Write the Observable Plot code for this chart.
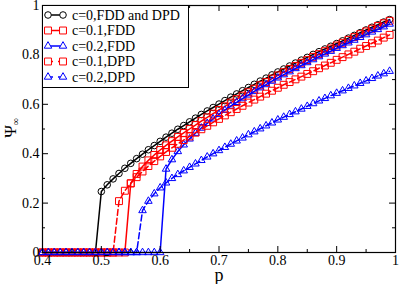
<!DOCTYPE html>
<html>
<head>
<meta charset="utf-8">
<script src="https://cdn.jsdelivr.net/npm/d3@7"></script>
<script src="https://cdn.jsdelivr.net/npm/@observablehq/plot@0.6"></script>
<style>
  html, body { margin: 0; padding: 0; background: #fff; }
  svg text { font-family: 'Liberation Serif', 'DejaVu Serif', serif !important; }
</style>
</head>
<body>
<div id="chart"></div>
<script>
// ---- data ----
const pGrid = [0.40,0.41,0.42,0.43,0.44,0.45,0.46,0.47,0.48,0.49,
               0.50,0.51,0.52,0.53,0.54,0.55,0.56,0.57,0.58,0.59,
               0.60,0.61,0.62,0.63,0.64,0.65,0.66,0.67,0.68,0.69,
               0.70,0.71,0.72,0.73,0.74,0.75,0.76,0.77,0.78,0.79,
               0.80,0.81,0.82,0.83,0.84,0.85,0.86,0.87,0.88,0.89,
               0.90,0.91,0.92,0.93,0.94,0.95,0.96,0.97,0.98,0.99];

const psiC0 = [0,0,0,0,0,0,0,0,0,0,
  .247,.274,.298,.320,.341,.361,.380,.398,.416,.433,
  .450,.467,.483,.499,.514,.529,.544,.559,.573,.587,
  .601,.615,.629,.642,.655,.668,.681,.694,.706,.719,
  .731,.743,.755,.767,.779,.790,.802,.813,.824,.835,
  .846,.857,.868,.879,.890,.901,.912,.922,.933,.943];

const psiC01FDD = [0,0,0,0,0,0,0,0,0,0,
  0,0,0,0,0,.280,.318,.348,.373,.395,
  .415,.434,.451,.468,.484,.500,.516,.532,.547,.562,
  .577,.592,.607,.621,.635,.649,.663,.677,.690,.704,
  .717,.730,.743,.755,.768,.779,.792,.803,.815,.826,
  .838,.849,.861,.872,.884,.895,.906,.917,.928,.938];

const psiC02FDD = [0,0,0,0,0,0,0,0,0,0,
  0,0,0,0,0,0,0,0,0,0,
  0,.338,.376,.409,.436,.460,.483,.504,.523,.541,
  .559,.576,.593,.608,.623,.638,.652,.667,.680,.694,
  .707,.720,.732,.745,.757,.769,.781,.793,.804,.815,
  .827,.838,.849,.860,.871,.882,.893,.903,.914,.925];

const psiC01DPD = [0,0,0,0,0,0,0,0,0,0,
  0,0,0,.208,.250,.280,.305,.328,.350,.370,
  .389,.407,.424,.440,.455,.470,.485,.499,.513,.527,
  .541,.555,.568,.581,.594,.607,.619,.631,.643,.655,
  .667,.679,.690,.701,.712,.723,.734,.746,.757,.768,
  .780,.791,.802,.813,.825,.836,.847,.858,.870,.881];

const psiC02DPD = [0,0,0,0,0,0,0,0,0,0,
  0,0,0,0,0,0,0,.170,.208,.238,
  .262,.282,.300,.316,.331,.345,.359,.373,.387,.400,
  .413,.426,.439,.452,.464,.477,.489,.501,.513,.525,
  .537,.548,.559,.570,.581,.592,.603,.614,.624,.635,
  .645,.655,.665,.675,.685,.695,.705,.715,.724,.734];

const seriesLabels = ["c=0,FDD and DPD","c=0.1,FDD","c=0.2,FDD","c=0.1,DPD","c=0.2,DPD"];
const xMajor = [0.4,0.5,0.6,0.7,0.8,0.9,1];
const xMinor = [0.45,0.55,0.65,0.75,0.85,0.95];
const yMajor = [0,0.2,0.4,0.6,0.8,1];
const yMinor = [0.1,0.3,0.5,0.7,0.9];

// ---- styling ----
const styles = [
  {values: psiC0,     color: "#000000", symbol: "circle",   r: 3.3, dash: null},
  {values: psiC01FDD, color: "#ff0000", symbol: "square",   r: 3.9, dash: null},
  {values: psiC02FDD, color: "#0000ff", symbol: "triangle", r: 2.8, dash: null},
  {values: psiC01DPD, color: "#ff0000", symbol: "square",   r: 3.9, dash: "6,3"},
  {values: psiC02DPD, color: "#0000ff", symbol: "triangle", r: 2.8, dash: "6,3"}
];

const W = 399, H = 284;
const mL = 42, mR = 4, mT = 5, mB = 32;
const innerW = W - mL - mR, innerH = H - mT - mB;
const serif = "'Liberation Serif', 'DejaVu Serif', serif";

const seriesMarks = [];
styles.forEach((s, i) => {
  const rows = pGrid.map((p, j) => ({p, psi: s.values[j], series: seriesLabels[i]}));
  seriesMarks.push(Plot.line(rows, {x: "p", y: "psi", stroke: s.color, strokeWidth: 1.5,
    strokeDasharray: s.dash ?? undefined}));
  seriesMarks.push(Plot.dot(rows, {x: "p", y: "psi", symbol: s.symbol, r: s.r,
    stroke: s.color, fill: "none", strokeWidth: 1}));
});

const tickMarks = [
  Plot.tickX(xMajor, {x: d => d, insetTop: innerH - 6, stroke: "black"}),
  Plot.tickX(xMajor, {x: d => d, insetBottom: innerH - 6, stroke: "black"}),
  Plot.tickX(xMinor, {x: d => d, insetTop: innerH - 3, stroke: "black"}),
  Plot.tickX(xMinor, {x: d => d, insetBottom: innerH - 3, stroke: "black"}),
  Plot.tickY(yMajor, {y: d => d, insetRight: innerW - 6, stroke: "black"}),
  Plot.tickY(yMajor, {y: d => d, insetLeft: innerW - 6, stroke: "black"}),
  Plot.tickY(yMinor, {y: d => d, insetRight: innerW - 3, stroke: "black"}),
  Plot.tickY(yMinor, {y: d => d, insetLeft: innerW - 3, stroke: "black"})
];

const svg = Plot.plot({
  width: W, height: H,
  marginLeft: mL, marginRight: mR, marginTop: mT, marginBottom: mB,
  x: {domain: [0.4, 1]},
  y: {domain: [0, 1]},
  style: {fontFamily: serif, fontSize: "14px", background: "white", color: "black", overflow: "visible"},
  marks: [
    ...seriesMarks,
    ...tickMarks,
    Plot.frame({stroke: "black", strokeWidth: 1.2}),
    Plot.axisX({ticks: xMajor, tickSize: 0, tickPadding: 3, tickFormat: d => String(d), label: null, fill: "black", fontSize: 14}),
    Plot.axisY({ticks: yMajor, tickSize: 0, tickPadding: 3, tickFormat: d => String(d), label: null, fill: "black", fontSize: 14}),
    Plot.text(["p"], {frameAnchor: "bottom", dy: 23, fontSize: 18, fill: "black", lineAnchor: "middle"})
  ]
});
document.getElementById("chart").appendChild(svg);

// y-axis title with subscript
const s = d3.select(svg);
const yt = s.append("text")
  .attr("transform", "translate(16,128) rotate(-90)")
  .attr("text-anchor", "middle")
  .style("font-family", serif)
  .style("font-size", "17px")
  .attr("fill", "black");
yt.append("tspan").text("Ψ");
yt.append("tspan").attr("font-size", "10px").attr("dy", "3").text("∞");

// legend
const lg = s.append("g");
lg.append("rect").attr("x", mL + 0.5).attr("y", mT + 0.5).attr("width", 146).attr("height", 82)
  .attr("fill", "white").attr("stroke", "black").attr("stroke-width", 1);
const symMap = {circle: d3.symbolCircle, square: d3.symbolSquare, triangle: d3.symbolTriangle};
styles.forEach((st, i) => {
  const y = 15 + i * 15.5;
  const x1 = 48, x2 = 63;
  lg.append("line").attr("x1", x1).attr("x2", x2).attr("y1", y).attr("y2", y)
    .attr("stroke", st.color).attr("stroke-width", 1.5)
    .attr("stroke-dasharray", st.dash ? "5,5" : null);
  const path = d3.symbol(symMap[st.symbol], Math.PI * st.r * st.r)();
  [x1, x2].forEach(x => {
    lg.append("path").attr("d", path).attr("transform", `translate(${x},${y})`)
      .attr("fill", "white").attr("stroke", st.color).attr("stroke-width", 1);
  });
  lg.append("text").attr("x", 72).attr("y", y + 4.5)
    .attr("text-anchor", "start")
    .style("font-family", serif).style("font-size", "14px").attr("fill", "black")
    .text(seriesLabels[i]);
});
</script>
</body>
</html>
